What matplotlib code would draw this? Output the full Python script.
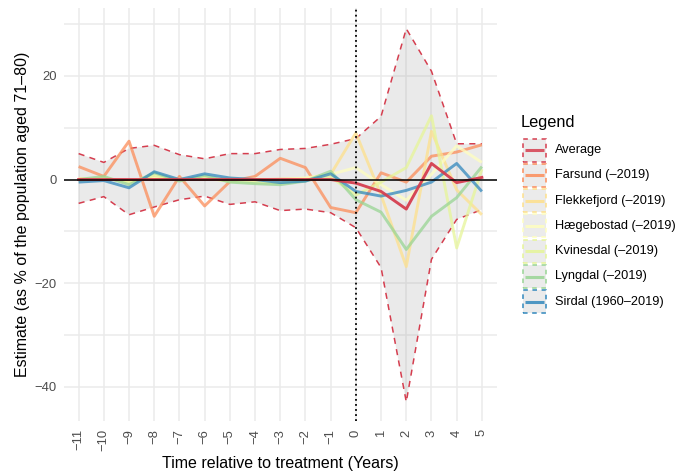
import matplotlib.pyplot as plt
import matplotlib.patches as mpatches
from matplotlib.lines import Line2D

plt.rcParams['font.family'] = ['Liberation Sans', 'DejaVu Sans']

years = list(range(-11, 6))

# average effect and its confidence band
average = [0, 0, 0, 0, 0, 0, 0, 0, 0, 0, 0, -0.7, -2.3, -5.7, 3.1, -0.6, 0.4]
upper = [5.0, 3.3, 6.0, 6.6, 4.8, 4.0, 5.0, 5.0, 5.8, 6.0, 6.8, 7.9, 12.2, 29.1, 20.9, 6.9, 6.9]
lower = [-4.6, -3.3, -6.8, -5.3, -3.9, -3.2, -4.8, -4.3, -6.0, -5.7, -6.4, -9.3, -17.0, -42.9, -15.4, -7.7, -5.8]

# per-municipality estimates
farsund = [2.5, 0.6, 7.4, -7.1, 0.6, -5.1, -0.4, 0.6, 4.1, 2.3, -5.4, -6.4, 1.3, -0.5, 4.5, 5.3, 6.7]
flekkefjord = [0.2, 0.1, -0.2, 0.3, 0.1, 0.0, 0.2, -0.1, 0.1, 0.2, 1.0, 9.0, -3.0, -16.8, 9.3, -2.0, -6.8]
haegebostad = [0.1, 0.2, -0.3, 0.2, 0.0, 0.1, -0.2, 0.1, 0.0, 0.3, 1.0, 2.3, -1.0, -4.0, 1.0, 6.5, 3.3]
kvinesdal = [-0.2, 0.3, -0.5, 0.8, -0.1, 0.4, -0.4, -0.6, -0.7, -0.2, 0.5, -3.0, -0.5, 2.3, 12.3, -13.2, 2.0]
lyngdal = [0.0, 0.6, -1.0, 1.3, -0.3, 0.8, -0.5, -0.8, -1.0, -0.3, 1.6, -3.9, -6.3, -13.5, -7.1, -3.5, 2.5]
sirdal = [-0.5, -0.2, -1.6, 1.5, 0.0, 1.1, 0.3, 0.0, -0.6, -0.3, 1.1, -2.3, -3.2, -2.1, -0.5, 3.1, -2.3]

names = ['Average', 'Farsund (–2019)', 'Flekkefjord (–2019)', 'Hægebostad (–2019)',
         'Kvinesdal (–2019)', 'Lyngdal (–2019)', 'Sirdal (1960–2019)']
series = [average, farsund, flekkefjord, haegebostad, kvinesdal, lyngdal, sirdal]
colors = ['#D53E4F', '#FC8D59', '#FEE08B', '#FFFFBF', '#E6F598', '#99D594', '#3288BD']

W, H = 680, 475
fig = plt.figure(figsize=(W / 100, H / 100), dpi=100)
ax = fig.add_axes([63.5 / W, 1 - 421 / H, (497 - 63.5) / W, (421 - 8) / H])

ax.set_xlim(-11.6, 5.6)
ax.set_ylim(-46.6, 33.1)
ax.set_xticks(years)
ax.set_xticklabels([str(y).replace('-', '−') for y in years], rotation=90)
ax.set_yticks([-40, -20, 0, 20])
ax.set_yticklabels(['−40', '−20', '0', '20'])
ax.set_yticks([-30, -10, 10, 30], minor=True)
ax.grid(True, which='major', color='#EBEBEB', lw=1.1)
ax.grid(True, which='minor', axis='y', color='#EBEBEB', lw=1.1)
ax.set_axisbelow(True)
for s in ax.spines.values():
    s.set_visible(False)
ax.tick_params(which='both', length=0, labelsize=9.4, labelcolor='#4D4D4D')
ax.tick_params(axis='y', pad=5)
ax.tick_params(axis='x', pad=6)

# confidence band of the average
ax.fill_between(years, lower, upper, facecolor='#999999', alpha=0.2, lw=0)
ax.plot(years, upper, color=colors[0], ls=(0, (4, 3.5)), lw=1.1)
ax.plot(years, lower, color=colors[0], ls=(0, (4, 3.5)), lw=1.1)

for vals, c in zip(series[1:], colors[1:]):
    ax.plot(years, vals, color=c, lw=2.1, alpha=0.75, solid_capstyle='butt')
ax.plot(years, average, color=colors[0], lw=2.1, alpha=0.95)

ax.axhline(0, color='black', lw=1.1)
ax.axvline(0, color='black', ls=(0, (1, 1.8)), lw=1.3)

ax.set_xlabel('Time relative to treatment (Years)', fontsize=11.5, labelpad=3)
ax.set_ylabel('Estimate (as % of the population aged 71–80)', fontsize=11.5, labelpad=3)

# legend drawn by hand: grey key with dashed outline plus a line
fig.text(521 / W, 1 - 122 / H, 'Legend', fontsize=11.8, va='center', ha='left')
for i, (name, c) in enumerate(zip(names, colors)):
    yc = 150 + i * 25.3
    box = mpatches.Rectangle((523 / W, 1 - (yc + 11.5) / H), 22.5 / W, 23 / H,
                             transform=fig.transFigure, facecolor='#EBEBEB',
                             edgecolor=c, ls=(0, (3, 3)), lw=1.1)
    fig.add_artist(box)
    fig.add_artist(Line2D([524.5 / W, 544 / W], [1 - yc / H, 1 - yc / H],
                          transform=fig.transFigure, color=c, lw=2.2, alpha=0.85,
                          solid_capstyle='butt'))
    fig.text(555 / W, 1 - yc / H, name, fontsize=9.2, va='center', ha='left')

fig.savefig('out.png', dpi=100)
